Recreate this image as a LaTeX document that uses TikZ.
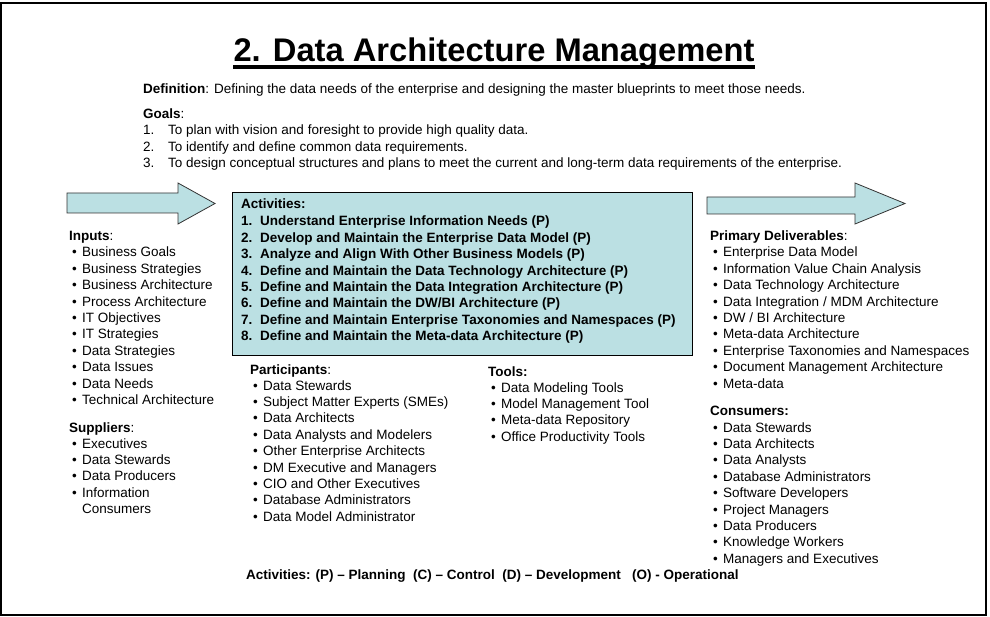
\documentclass[tikz,border=0pt]{standalone}
\usepackage{fontspec}
\setmainfont{Liberation Sans}
\definecolor{boxfill}{RGB}{187,224,227}
\newcommand\itembul{\makebox[10pt][l]{•}}
\begin{document}
\begin{tikzpicture}[x=1pt,y=-1pt,
  txt/.style={anchor=base west, inner sep=0pt, font=\fontsize{13.5}{16.4}\selectfont},
  btxt/.style={txt, font=\fontsize{13.5}{16.4}\selectfont\bfseries},
  arrowshape/.style={draw=black!80, line width=0.8pt, fill=boxfill, line join=miter}]
\useasboundingbox (0,0) rectangle (990,617);
\draw[line width=2pt] (1,3) rectangle (986,614.5);

% title
\node[inner sep=0pt, anchor=base, font=\fontsize{32.7}{36}\selectfont\bfseries] (title) at (494,62) {2. Data Architecture Management};
\draw[line width=3.5pt] ([yshift=-5pt]title.base west) -- ([yshift=-5pt]title.base east);

\node[txt] (def) at (143,94) {\textbf{Definition}: Defining the data needs of the enterprise and designing the master blueprints to meet those needs.};
\node[txt] (goals) at (143,119) {\textbf{Goals}:};
\foreach \t [count=\i] in {To plan with vision and foresight to provide high quality data.,
  To identify and define common data requirements.,
  To design conceptual structures and plans to meet the current and long-term data requirements of the enterprise.}{
  \node[txt] (gn\i) at (143,{135+16.4*(\i-1)}) {\i.};
  \node[txt] (g\i) at (168,{135+16.4*(\i-1)}) {\t};
}

% arrows
\draw[arrowshape] (67,193) -- (178,193) -- (178,183) -- (215,203.5) -- (178,224) -- (178,213) -- (67,213) -- cycle;
\draw[arrowshape] (707,197) -- (855,197) -- (855,183) -- (905,203.5) -- (855,224) -- (855,214) -- (707,214) -- cycle;

% activities box
\node[draw=black, fill=boxfill, line width=1.2pt, minimum width=460pt, minimum height=163pt, anchor=north west, inner sep=0pt] (actbox) at (232,192) {};
\node[btxt] (acth) at (241,209) {Activities:};
\foreach \t [count=\i] in {Understand Enterprise Information Needs (P),
  Develop and Maintain the Enterprise Data Model (P),
  Analyze and Align With Other Business Models (P),
  Define and Maintain the Data Technology Architecture (P),
  Define and Maintain the Data Integration Architecture (P),
  Define and Maintain the DW/BI Architecture (P),
  Define and Maintain Enterprise Taxonomies and Namespaces (P),
  Define and Maintain the Meta-data Architecture (P)}{
  \node[btxt] (an\i) at (241,{226+16.4*(\i-1)}) {\i.};
  \node[btxt] (a\i) at (260,{226+16.4*(\i-1)}) {\t};
}

% inputs
\node[txt] (inh) at (69,241) {\textbf{Inputs}:};
\foreach \t [count=\i] in {Business Goals, Business Strategies, Business Architecture,
  Process Architecture, IT Objectives, IT Strategies, Data Strategies, Data Issues,
  Data Needs, Technical Architecture}{
  \node[txt] (in\i) at (72,{257+16.4*(\i-1)}) {\itembul\t};
}
% suppliers
\node[txt] (suh) at (69,432) {\textbf{Suppliers}:};
\foreach \t [count=\i] in {Executives, Data Stewards, Data Producers, Information}{
  \node[txt] (su\i) at (72,{448+16.4*(\i-1)}) {\itembul\t};
}
\node[txt] (su5) at (82,513.6) {Consumers};

% participants
\node[txt] (pah) at (250,374) {\textbf{Participants}:};
\foreach \t [count=\i] in {Data Stewards, Subject Matter Experts (SMEs), Data Architects,
  Data Analysts and Modelers, Other Enterprise Architects, DM Executive and Managers,
  CIO and Other Executives, Database Administrators, Data Model Administrator}{
  \node[txt] (pa\i) at (253,{390+16.4*(\i-1)}) {\itembul\t};
}

% tools
\node[btxt] (toh) at (488,376) {Tools:};
\foreach \t [count=\i] in {Data Modeling Tools, Model Management Tool, Meta-data Repository,
  Office Productivity Tools}{
  \node[txt] (to\i) at (491,{392+16.4*(\i-1)}) {\itembul\t};
}

% deliverables
\node[txt] (deh) at (710,241) {\textbf{Primary Deliverables}:};
\foreach \t [count=\i] in {Enterprise Data Model, Information Value Chain Analysis,
  Data Technology Architecture, Data Integration / MDM Architecture, DW / BI Architecture,
  Meta-data Architecture, Enterprise Taxonomies and Namespaces,
  Document Management Architecture, Meta-data}{
  \node[txt] (de\i) at (713,{257+16.4*(\i-1)}) {\itembul\t};
}

% consumers
\node[btxt] (coh) at (710,415) {Consumers:};
\foreach \t [count=\i] in {Data Stewards, Data Architects, Data Analysts,
  Database Administrators, Software Developers, Project Managers, Data Producers,
  Knowledge Workers, Managers and Executives}{
  \node[txt] (co\i) at (713,{432+16.4*(\i-1)}) {\itembul\t};
}

% legend
\node[btxt] (legend) at (246,579) {Activities: (P) – Planning\ \ (C) – Control\ \ (D) – Development\ \ \ (O) - Operational};
\end{tikzpicture}
\end{document}
